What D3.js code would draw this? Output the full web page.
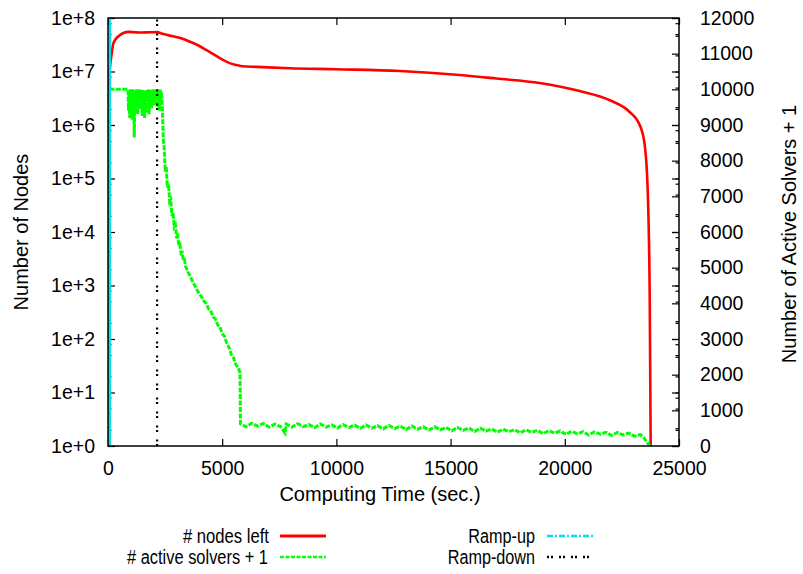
<!DOCTYPE html>
<html><head><meta charset="utf-8">
<script src="https://cdn.jsdelivr.net/npm/d3@7"></script>
<style>
body{margin:0;background:#fff;}
text{font-family:"Liberation Sans",Arial,sans-serif;fill:#000;}
</style></head>
<body><svg id="c" width="803" height="574"></svg>
<script>
// ---------- data ----------
const xTicks = [0, 5000, 10000, 15000, 20000, 25000];
const yTicks = [1, 1e1, 1e2, 1e3, 1e4, 1e5, 1e6, 1e7, 1e8];
const yTickLabels = ["1e+0","1e+1","1e+2","1e+3","1e+4","1e+5","1e+6","1e+7","1e+8"];
const yMinorMult = [2, 5, 8];
const y2Ticks = [0,1000,2000,3000,4000,5000,6000,7000,8000,9000,10000,11000,12000];
const y2Minor = [500,1500,2500,3500,4500,5500,6500,7500,8500,9500,10500,11500];

const nodesTime = [0,10,20,30,45,60,90,150,230,350,525,700,890,1200,1500,1800,2130,2420,2800,3200,3590,4000,4320,4700,5030,5300,5630,5900,6500,7960,10000,12780,15400,17000,18900,20650,21970,22840,23280,23500,23630,23720,23760];
const nodesLeft = [1,1e3,1e5,2e6,6e6,9e6,1.25e7,2.0e7,3.3e7,4.1e7,4.8e7,5.3e7,5.5e7,5.4e7,5.35e7,5.4e7,5.45e7,5.0e7,4.6e7,4.2e7,3.6e7,3.0e7,2.5e7,2.0e7,1.65e7,1.45e7,1.32e7,1.25e7,1.22e7,1.15e7,1.1e7,1.02e7,8.6e6,7.4e6,6.1e6,4.3e6,2.9e6,1.75e6,1.0e6,4.2e5,6e4,5e2,1];

// active solvers + 1 : ramp-up / saturated phase
const solversTimeA = [0,12,20,875,900,925,950,975,1000,1025,1050,1075,1100,1125,1150,1175,1200,1225,1250,1275,1300,1325,1350,1375,1400,1425,1450,1475,1500,1525,1550,1575,1600,1625,1650,1675,1700,1725,1750,1775,1800,1825,1850,1875,1900,1925,1950,1975,2000,2025,2050,2075,2100,2125,2150,2175,2200,2225,2250,2275,2300,2325,2350];
const solversA = [1,1000,10000,10000,9400,9950,9200,10000,9600,9900,9150,10000,9500,9950,8650,9900,9350,10000,9550,9900,9300,10000,9650,9950,9450,10000,9750,9900,9250,10000,9500,9950,9200,9900,9600,10000,9350,9950,9700,10000,9300,9900,9500,10000,9450,9950,9650,10000,9550,9900,9600,10000,9700,9950,9500,10000,9650,9950,9400,10000,9600,9950,9800];
// decline phase
const solversTimeB = [2380,2420,2460,2500,2550,2600,2650,2700,2750,2800,2850,2900,2950,3000,3050,3100,3150,3200,3250,3300,3350,3400,3500,3600,3700,3800,3900,4000,4100,4200,4300,4400,4500,4600,4700,4800,4900,5000,5100,5200,5300,5400,5500,5600,5700,5780];
const solversB = [9500,8600,8350,7800,7850,7250,7350,6850,6900,6450,6550,6150,6200,5880,5900,5620,5650,5400,5420,5200,5220,5030,4880,4760,4620,4500,4370,4260,4180,4060,3990,3850,3780,3620,3560,3400,3330,3150,3080,2880,2760,2560,2470,2280,2200,2050];
// long tail phase
const solversTimeC = [5800,6050,6300,6550,6800,7050,7300,7550,7750,7800,8050,8300,8550,8800,9050,9300,9550,9800,10050,10300,10550,10800,11050,11300,11550,11800,12050,12300,12550,12800,13050,13300,13550,13800,14050,14300,14550,14800,15050,15300,15550,15800,16050,16300,16550,16800,17050,17300,17550,17800,18050,18300,18550,18800,19050,19300,19550,19800,20050,20300,20550,20800,21050,21300,21550,21800,22050,22300,22550,22800,23050,23300,23450,23550,23650,23720];
const solversC = [620,540,640,560,630,530,610,545,360,615,530,625,545,600,515,620,530,590,505,600,520,585,495,590,500,570,480,575,490,555,460,560,470,540,445,540,455,520,425,520,440,505,405,500,420,480,385,475,400,460,365,455,380,440,345,435,360,420,325,415,340,400,310,395,330,385,295,380,310,360,275,320,240,150,60,1];

const rampUpTime = 80;
const rampDownTime = 2150;

const xLabel = "Computing Time (sec.)";
const yLabel = "Number of Nodes";
const y2Label = "Number of Active Solvers + 1";
const legendLabels = ["# nodes left", "# active solvers + 1", "Ramp-up", "Ramp-down"];

// ---------- layout ----------
const L = 108, R = 679, T = 18, B = 446;
const svg = d3.select("#c");
const x = d3.scaleLinear().domain([0, 25000]).range([L, R]);
const y = d3.scaleLog().domain([1, 1e8]).range([B, T]);
const y2 = d3.scaleLinear().domain([0, 12000]).range([B, T]);
const FS = "19.5px";

svg.append("defs").append("clipPath").attr("id","clip")
  .append("rect").attr("x",L).attr("y",T).attr("width",R-L).attr("height",B-T);

const yMinor = [];
yTicks.slice(0,-1).forEach(d => yMinorMult.forEach(m => yMinor.push(d*m)));

function styleAxis(g){
  g.select(".domain").remove();
  g.selectAll(".tick line").attr("stroke","#000").attr("stroke-width",1.2);
  g.selectAll("text").style("font-size",FS).attr("fill","#000");
}

svg.append("g").attr("transform",`translate(0,${B})`)
  .call(d3.axisBottom(x).tickValues(xTicks).tickSizeInner(-7).tickSizeOuter(0).tickPadding(15).tickFormat(d3.format("d")))
  .call(styleAxis);
svg.append("g").attr("transform",`translate(0,${T})`)
  .call(d3.axisTop(x).tickValues(xTicks).tickSizeInner(-7).tickSizeOuter(0).tickFormat(""))
  .call(styleAxis);
svg.append("g").attr("transform",`translate(${L},0)`)
  .call(d3.axisLeft(y).tickValues(yTicks).tickSizeInner(-7).tickSizeOuter(0).tickPadding(13).tickFormat((d,i)=>yTickLabels[i]))
  .call(styleAxis);
svg.append("g").attr("transform",`translate(${L},0)`)
  .call(d3.axisLeft(y).tickValues(yMinor).tickSizeInner(-3.5).tickSizeOuter(0).tickFormat(""))
  .call(styleAxis);
svg.append("g").attr("transform",`translate(${R},0)`)
  .call(d3.axisRight(y).tickValues(yTicks).tickSizeInner(-7).tickSizeOuter(0).tickFormat(""))
  .call(styleAxis);
svg.append("g").attr("transform",`translate(${R},0)`)
  .call(d3.axisRight(y).tickValues(yMinor).tickSizeInner(-3.5).tickSizeOuter(0).tickFormat(""))
  .call(styleAxis);
svg.append("g").attr("transform",`translate(${R},0)`)
  .call(d3.axisRight(y2).tickValues(y2Ticks).tickSizeInner(-7).tickSizeOuter(0).tickPadding(21).tickFormat(d3.format("d")))
  .call(styleAxis);
svg.append("g").attr("transform",`translate(${R},0)`)
  .call(d3.axisRight(y2).tickValues(y2Minor).tickSizeInner(-3.5).tickSizeOuter(0).tickFormat(""))
  .call(styleAxis);

// ---------- series ----------
const plot = svg.append("g").attr("clip-path","url(#clip)");
const red = "#ff0000", green = "#00ff00", cyan = "#00e0f0";

const nodesPts = nodesTime.map((t,i)=>[t,nodesLeft[i]]);
plot.append("path").datum(nodesPts)
  .attr("fill","none").attr("stroke",red).attr("stroke-width",2.6)
  .attr("d", d3.line().x(d=>x(d[0])).y(d=>y(d[1])).curve(d3.curveMonotoneX));

const solTimes = solversTimeA.concat(solversTimeB, solversTimeC);
const solVals = solversA.concat(solversB, solversC);
const solPts = solTimes.map((t,i)=>[t,solVals[i]]);
plot.append("path").datum(solPts)
  .attr("fill","none").attr("stroke",green).attr("stroke-width",3)
  .attr("stroke-dasharray","5,1.5")
  .attr("d", d3.line().x(d=>x(d[0])).y(d=>y2(d[1])));

plot.append("line")
  .attr("x1",x(rampUpTime)).attr("x2",x(rampUpTime)).attr("y1",y(1)).attr("y2",y(1e8))
  .attr("stroke",cyan).attr("stroke-width",2.6);
plot.append("line")
  .attr("x1",x(rampDownTime)).attr("x2",x(rampDownTime)).attr("y1",y(1)).attr("y2",y(1e8))
  .attr("stroke","#000").attr("stroke-width",2.2).attr("stroke-dasharray","2,2.5,2,7.5");

svg.append("rect").attr("x",L).attr("y",T).attr("width",R-L).attr("height",B-T)
  .attr("fill","none").attr("stroke","#000").attr("stroke-width",1.5);

// ---------- labels ----------
svg.append("text").attr("x",380).attr("y",501).attr("text-anchor","middle").style("font-size","20px").text(xLabel);
svg.append("text").attr("transform","translate(28,232) rotate(-90)").attr("text-anchor","middle").style("font-size","20px").text(yLabel);
svg.append("text").attr("transform","translate(796,234) rotate(-90)").attr("text-anchor","middle").style("font-size","20px").text(y2Label);

// ---------- legend ----------
const legItems = [
  {lab:legendLabels[0], tx:269, ty:536, len:86, lx:280, col:red, w:3, dash:null},
  {lab:legendLabels[1], tx:268, ty:557, len:141, lx:280, col:green, w:2.6, dash:"4,1.5"},
  {lab:legendLabels[2], tx:535, ty:536, len:66.7, lx:547, col:cyan, w:2.6, dash:"6,2,2,2"},
  {lab:legendLabels[3], tx:535, ty:557, len:87.3, lx:547, col:"#000", w:2.4, dash:"2,2,2,6"}
];
const lg = svg.append("g");
legItems.forEach(d=>{
  lg.append("text").attr("x",d.tx).attr("y",d.ty+7).attr("text-anchor","end")
    .style("font-size","20px").attr("textLength",d.len).attr("lengthAdjust","spacingAndGlyphs").text(d.lab);
  const ln = lg.append("line").attr("x1",d.lx).attr("x2",d.lx+46).attr("y1",d.ty).attr("y2",d.ty)
    .attr("stroke",d.col).attr("stroke-width",d.w);
  if(d.dash) ln.attr("stroke-dasharray",d.dash);
});
</script></body></html>
